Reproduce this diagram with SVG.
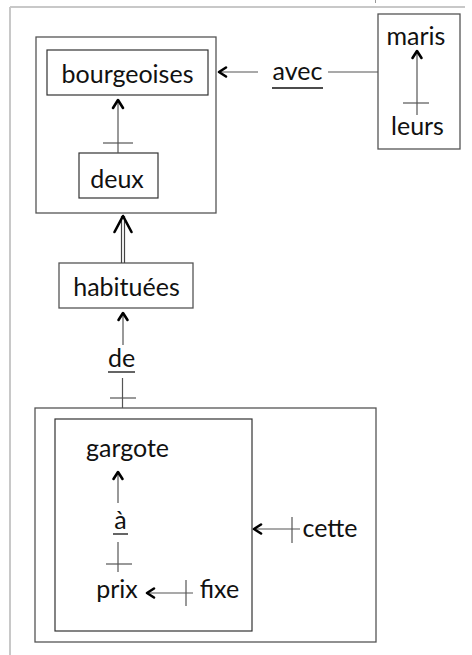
<svg xmlns="http://www.w3.org/2000/svg" width="472" height="655" viewBox="0 0 472 655">
<style>
  text { font-family: "Lato", "Open Sans", "Liberation Sans", sans-serif; font-size: 25px; fill: #111; text-anchor: middle; }
  .box { fill: #fff; stroke: #555; stroke-width: 1.3; }
  .ibox { fill: #fff; stroke: #333; stroke-width: 1.2; }
  .ln { stroke: #555; stroke-width: 1.2; fill: none; }
  .ul { stroke: #111; stroke-width: 1.3; }
  .ah { stroke: #000; stroke-width: 2.6; fill: none; stroke-linecap: round; stroke-linejoin: round; }
  .frame { stroke: #c8c8c8; stroke-width: 2; fill: none; }
</style>
<rect width="472" height="655" fill="#fff"/>
<g id="frame">
  <line class="frame" x1="10" y1="7" x2="465" y2="7"/>
  <line class="frame" x1="10" y1="7" x2="10" y2="655"/>
  <line x1="375.5" y1="0" x2="375.5" y2="3" stroke="#999" stroke-width="1"/>
</g>
<g id="group-bourgeoises">
  <rect class="box" x="36" y="37" width="180" height="176"/>
</g>
<g id="bourgeoises">
  <rect class="ibox" x="47" y="50" width="161" height="45"/>
  <text x="127.5" y="83">bourgeoises</text>
</g>
<g id="deux">
  <rect class="ibox" x="79" y="153" width="79" height="45"/>
  <text x="117" y="188">deux</text>
</g>
<g id="maris-box">
  <rect class="box" x="378" y="14" width="82" height="135"/>
</g>
<g id="maris"><text x="416" y="45">maris</text></g>
<g id="leurs"><text x="417.5" y="135">leurs</text></g>
<g id="avec">
  <text x="297.5" y="80">avec</text>
  <line class="ul" x1="272" y1="88" x2="323" y2="88"/>
</g>
<g id="habituees">
  <rect class="box" x="59" y="263" width="134" height="45"/>
  <text x="126.5" y="295.5">habituées</text>
</g>
<g id="de">
  <text x="121.5" y="367">de</text>
  <line class="ul" x1="108" y1="372" x2="135" y2="372"/>
</g>
<g id="group-gargote">
  <rect class="box" x="35" y="408" width="341" height="234"/>
</g>
<g id="gargote-box">
  <rect class="ibox" x="55" y="419" width="197" height="212"/>
</g>
<g id="gargote"><text x="127.5" y="457">gargote</text></g>
<g id="a">
  <text x="120.5" y="529">à</text>
  <line class="ul" x1="113" y1="534" x2="128" y2="534"/>
</g>
<g id="prix"><text x="117" y="598">prix</text></g>
<g id="fixe"><text x="219.5" y="598">fixe</text></g>
<g id="cette"><text x="330" y="537">cette</text></g>
<g id="connectors">
  <!-- deux -> bourgeoises -->
  <line class="ln" x1="118" y1="153" x2="118" y2="100"/>
  <line class="ln" x1="103" y1="143" x2="133" y2="143"/>
  <polyline class="ah" points="113,108 118,100 123,108"/>
  <!-- avec -> bourgeoises -->
  <line class="ln" x1="219" y1="72" x2="258" y2="72"/>
  <polyline class="ah" points="226,67.5 219,72 226,76.5"/>
  <line class="ln" x1="328" y1="72" x2="378" y2="72"/>
  <!-- leurs -> maris -->
  <line class="ln" x1="417" y1="51" x2="417" y2="115"/>
  <line class="ln" x1="403" y1="103" x2="429" y2="103"/>
  <polyline class="ah" points="412.5,58 417,51 421.5,58"/>
  <!-- habituees -> group (double) -->
  <line stroke="#444" stroke-width="1.2" x1="121.5" y1="216" x2="121.5" y2="263"/>
  <line stroke="#444" stroke-width="1.2" x1="124.5" y1="216" x2="124.5" y2="263"/>
  <polyline class="ah" stroke-width="3.2" points="114.5,232 123,216 131.5,232"/>
  <!-- de -> habituees -->
  <line class="ln" x1="123" y1="313" x2="123" y2="345"/>
  <polyline class="ah" points="118.5,320 123,313 127.5,320"/>
  <line class="ln" x1="122.5" y1="378" x2="122.5" y2="408"/>
  <line class="ln" x1="110" y1="398" x2="136" y2="398"/>
  <!-- a -> gargote -->
  <line class="ln" x1="118" y1="472" x2="118" y2="503"/>
  <polyline class="ah" points="113.5,479 118,472 122.5,479"/>
  <line class="ln" x1="118" y1="542" x2="118" y2="572"/>
  <line class="ln" x1="106" y1="564" x2="132" y2="564"/>
  <!-- fixe -> prix -->
  <line class="ln" x1="147" y1="593" x2="193" y2="593"/>
  <line class="ln" x1="186" y1="580" x2="186" y2="606"/>
  <polyline class="ah" points="154,588.5 147,593 154,597.5"/>
  <!-- cette -> gargote box -->
  <line class="ln" x1="254" y1="529" x2="300" y2="529"/>
  <line class="ln" x1="292" y1="517" x2="292" y2="543"/>
  <polyline class="ah" points="261,524.5 254,529 261,533.5"/>
</g>
</svg>
